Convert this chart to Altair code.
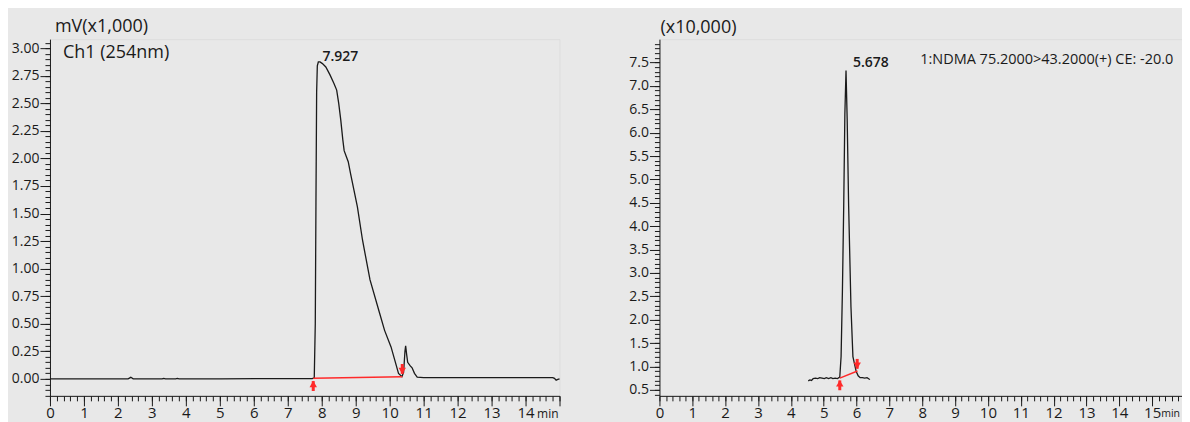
import altair as alt
import pandas as pd

# ---------------- data: left panel (UV, Ch1 254nm), mV x1000 ----------------
uv_time = [0.0, 1.0, 2.0, 2.3, 2.38, 2.45, 3.0, 3.3, 3.35, 3.4, 3.7, 3.75, 3.8,
           5.0, 6.5, 7.5, 7.72, 7.78, 7.81, 7.83, 7.85, 7.87, 7.9, 7.95, 8.02,
           8.12, 8.24, 8.36, 8.44, 8.5, 8.56, 8.62, 8.66, 8.72, 8.78, 8.85,
           8.95, 9.05, 9.2, 9.42, 9.7, 9.85, 10.04, 10.15, 10.26, 10.36, 10.41,
           10.45, 10.47, 10.5, 10.53, 10.6, 10.66, 10.73, 10.81, 11.0, 12.0,
           13.0, 14.0, 14.8, 14.85, 14.9, 14.95, 15.0]
uv_signal = [0.0, 0.0, 0.0, 0.0, 0.014, 0.0, 0.0, 0.0, 0.004, 0.0, 0.0, 0.004, 0.0,
             0.0, 0.002, 0.002, 0.003, 0.01, 0.5, 1.6, 2.6, 2.84, 2.875, 2.875, 2.86,
             2.83, 2.76, 2.68, 2.62, 2.5, 2.35, 2.17, 2.07, 2.02, 1.97, 1.86,
             1.71, 1.56, 1.26, 0.9, 0.6, 0.44, 0.29, 0.17, 0.05, 0.02, 0.06,
             0.25, 0.3, 0.22, 0.15, 0.12, 0.1, 0.05, 0.015, 0.012, 0.012,
             0.012, 0.012, 0.012, 0.005, -0.012, -0.005, 0.0]
uv_base_time = [7.75, 10.37]
uv_base_signal = [0.005, 0.02]
uv_up_x = [7.75]
uv_up_tail, uv_up_tip = [-0.11], [-0.02]
uv_dn_x = [10.37]
uv_dn_tail, uv_dn_tip = [0.135], [0.045]
uv_peak_label = ["7.927"]
uv_peak_pos = [(8.02, 2.92)]

# ---------------- data: right panel (MRM NDMA), x10,000 ----------------
ms_time = [4.53, 4.58, 4.63, 4.68, 4.75, 4.82, 4.88, 4.95, 5.02, 5.08, 5.15,
           5.22, 5.28, 5.35, 5.42, 5.49, 5.53, 5.57, 5.61, 5.645, 5.68, 5.715,
           5.76, 5.83, 5.89, 5.99, 6.05, 6.11, 6.18, 6.25, 6.32, 6.38, 6.41]
ms_signal = [0.69, 0.71, 0.70, 0.74, 0.75, 0.74, 0.76, 0.75, 0.74, 0.76, 0.74,
             0.76, 0.74, 0.75, 0.74, 0.77, 1.21, 2.6, 4.43, 6.4, 7.33, 6.3,
             4.43, 2.28, 1.21, 0.89, 0.80, 0.76, 0.76, 0.75, 0.76, 0.73, 0.72]
ms_base_time = [5.49, 6.03]
ms_base_signal = [0.75, 0.90]
ms_up_x = [5.49]
ms_up_tail, ms_up_tip = [0.49], [0.70]
ms_dn_x = [6.02]
ms_dn_tail, ms_dn_tip = [1.16], [0.95]
ms_peak_label = ["5.678"]
ms_peak_pos = [(5.89, 7.48)]

FONT = "Open Sans"
BLACK = "#1a1a1a"
RED = "#ff2a2a"
BG = "#e8e8e8"


def panel(t, s, bt, bs, upx, uptail, uptip, dnx, dntail, dntip, plabel, ppos,
          xdom, ydom, width, height, xmajor, xminor, ymajor, yminor, yfmt,
          xlab_hide, unit_text, unit_xy, extra_texts, min_x, min_size):
    df = pd.DataFrame({"t": t, "s": s})
    bdf = pd.DataFrame({"t": bt, "s": bs})
    xs = alt.Scale(domain=xdom, nice=False, zero=False)
    ys = alt.Scale(domain=ydom, nice=False, zero=False)

    major_x = alt.Axis(orient="bottom", values=xmajor, tickSize=10, tickColor=BLACK,
                       domainColor=BLACK, labelFontSize=15, labelPadding=0,
                       labelFont=FONT, labelColor=BLACK, grid=False, title=None,
                       labelFlush=False, labelExpr=f"datum.value == {xlab_hide} ? '' : datum.label")
    major_y = alt.Axis(orient="left", values=ymajor, tickSize=10, tickColor=BLACK,
                       domainColor=BLACK, labelFontSize=14, labelPadding=1,
                       labelFont=FONT, labelColor=BLACK, grid=False, title=None,
                       format=yfmt, labelFlush=False)
    minor_x = alt.Axis(orient="bottom", values=xminor, tickSize=5, tickColor=BLACK,
                       domain=False, labels=False, grid=False, title=None)
    minor_y = alt.Axis(orient="left", values=yminor, tickSize=5, tickColor=BLACK,
                       domain=False, labels=False, grid=False, title=None)

    line = alt.Chart(df).mark_line(color=BLACK, strokeWidth=1.3).encode(
        x=alt.X("t:Q", scale=xs, axis=major_x),
        y=alt.Y("s:Q", scale=ys, axis=major_y),
    )
    base = alt.Chart(bdf).mark_line(color=RED, strokeWidth=1.5).encode(
        x=alt.X("t:Q", scale=xs, axis=minor_x),
        y=alt.Y("s:Q", scale=ys, axis=minor_y),
    )
    up = pd.DataFrame({"x": upx, "tail": uptail, "tip": uptip})
    dn = pd.DataFrame({"x": dnx, "tail": dntail, "tip": dntip})
    up_shaft = alt.Chart(up).mark_rule(color=RED, strokeWidth=3).encode(
        x=alt.X("x:Q", scale=xs, axis=None),
        y=alt.Y("tail:Q", scale=ys, axis=None), y2="tip:Q")
    up_head = alt.Chart(up).mark_point(shape="triangle-up", filled=True, color=RED,
                                       size=55, opacity=1, yOffset=3).encode(
        x=alt.X("x:Q", scale=xs, axis=None),
        y=alt.Y("tip:Q", scale=ys, axis=None))
    dn_shaft = alt.Chart(dn).mark_rule(color=RED, strokeWidth=3).encode(
        x=alt.X("x:Q", scale=xs, axis=None),
        y=alt.Y("tail:Q", scale=ys, axis=None), y2="tip:Q")
    dn_head = alt.Chart(dn).mark_point(shape="triangle-down", filled=True, color=RED,
                                       size=55, opacity=1, yOffset=-3).encode(
        x=alt.X("x:Q", scale=xs, axis=None),
        y=alt.Y("tip:Q", scale=ys, axis=None))
    pl = pd.DataFrame({"label": plabel, "x": [p[0] for p in ppos], "y": [p[1] for p in ppos]})
    peak_txt = alt.Chart(pl).mark_text(align="left", baseline="middle", font=FONT,
                                       fontSize=14, fontWeight=600, color=BLACK).encode(
        x=alt.X("x:Q", scale=xs, axis=None),
        y=alt.Y("y:Q", scale=ys, axis=None), text="label:N")
    layers = [line, base, up_shaft, up_head, dn_shaft, dn_head, peak_txt]

    unit = alt.Chart(pd.DataFrame({"v": [unit_text]})).mark_text(
        align="left", baseline="middle", font=FONT, fontSize=18, color=BLACK).encode(
        x=alt.value(unit_xy[0]), y=alt.value(unit_xy[1]), text="v:N")
    mins = alt.Chart(pd.DataFrame({"v": ["min"]})).mark_text(
        align="right", baseline="middle", font=FONT, fontSize=min_size, color=BLACK).encode(
        x=alt.value(min_x), y=alt.value(height + 18), text="v:N")
    layers += [unit, mins]
    for txt, px, py, fs in extra_texts:
        layers.append(alt.Chart(pd.DataFrame({"v": [txt]})).mark_text(
            align="left", baseline="middle", font=FONT, fontSize=fs, color=BLACK).encode(
            x=alt.value(px), y=alt.value(py), text="v:N"))

    return alt.layer(*layers).resolve_axis(x="independent", y="independent").properties(
        width=width, height=height)


left = panel(uv_time, uv_signal, uv_base_time, uv_base_signal,
             uv_up_x, uv_up_tail, uv_up_tip, uv_dn_x, uv_dn_tail, uv_dn_tip,
             uv_peak_label, uv_peak_pos,
             xdom=[0, 15], ydom=[-0.154, 3.082], width=510, height=357,
             xmajor=list(range(0, 16)),
             xminor=[round(i * 0.2, 1) for i in range(0, 76)],
             ymajor=[round(i * 0.25, 2) for i in range(0, 13)],
             yminor=[round(i * 0.05, 2) for i in range(-3, 62)],
             yfmt=".2f", xlab_hide=15, unit_text="mV(x1,000)", unit_xy=(5, -12.3),
             extra_texts=[("Ch1 (254nm)", 13, 14, 18)], min_x=509, min_size=12)

right = panel(ms_time, ms_signal, ms_base_time, ms_base_signal,
              ms_up_x, ms_up_tail, ms_up_tip, ms_dn_x, ms_dn_tail, ms_dn_tip,
              ms_peak_label, ms_peak_pos,
              xdom=[0, 16], ydom=[0.37, 8.0], width=526, height=357,
              xmajor=list(range(0, 17)),
              xminor=[round(i * 0.2, 1) for i in range(0, 81)],
              ymajor=[round(0.5 + i * 0.5, 1) for i in range(0, 15)],
              yminor=[round(0.4 + i * 0.1, 1) for i in range(0, 76)],
              yfmt=".1f", xlab_hide=16, unit_text="(x10,000)", unit_xy=(1, -10.7),
              extra_texts=[("1:NDMA 75.2000>43.2000(+) CE: -20.0", 261, 21, 14.5)],
              min_x=521, min_size=10.5)

chart = alt.hconcat(left, right, spacing=64).properties(
    background=BG,
    padding={"left": 2, "top": 9, "right": -4, "bottom": 0},
).configure_view(stroke=BLACK, strokeWidth=1, fill=BG).configure(font=FONT)

chart.save("out.html", embed_options={"renderer": "svg", "actions": False})
